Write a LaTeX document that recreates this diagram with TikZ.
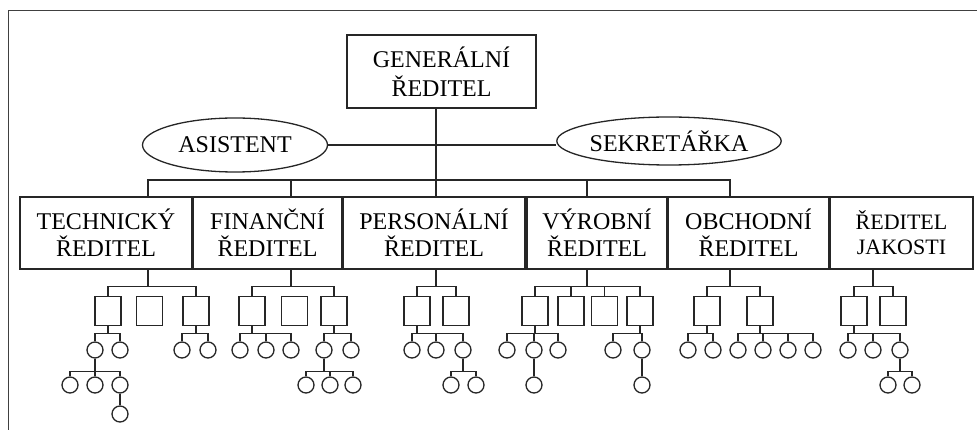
\documentclass[tikz,border=0pt]{standalone}
\usepackage{fontspec}
\setmainfont{Liberation Serif}
\usetikzlibrary{shapes.geometric}

\begin{document}
\begin{tikzpicture}[
    x=1pt, y=-1pt,
    font=\fontsize{24}{27}\selectfont,
    % org chart parts
    boss/.style={rectangle, draw=black!85, line width=1.4pt, minimum width=189pt, minimum height=73pt, align=center, inner sep=0pt},
    dir/.style={rectangle, draw=black!85, line width=1.4pt, minimum height=72pt, align=center, inner sep=0pt},
    aide/.style={ellipse, draw=black!85, line width=1.3pt, inner sep=0pt},
    dept/.style={rectangle, draw=black!85, line width=1.3pt, minimum width=26pt, minimum height=29pt, inner sep=0pt},
    staff/.style={circle, draw=black!85, line width=1.3pt, minimum size=16pt, inner sep=0pt},
    link/.style={draw=black!85, line width=1.3pt},
]
\useasboundingbox (0,0) rectangle (977,430);

% frame (cut off at right and bottom)
\draw[line width=1pt, black!75] (8,430) -- (8,10.5) -- (977,10.5);

% -------------------------
% Top: general director and staff
% -------------------------
\node[boss, font=\fontsize{24}{29}\selectfont] (gen) at (441.5,71.5) {GENERÁLNÍ\\ŘEDITEL};

\node[aide, minimum width=185pt, minimum height=54pt] (asi) at (235,145) {ASISTENT};
\node[aide, minimum width=201pt, minimum height=48pt] (sek) at (669,141) {SEKRETÁŘKA};

\draw[link] (asi.east) -- (asi.east -| sek.west);

% -------------------------
% Directors
% -------------------------
\node[dir, minimum width=172pt] (tech) at (106,233)   {TECHNICKÝ\\ŘEDITEL};
\node[dir, minimum width=149pt] (fin)  at (267.5,233) {FINANČNÍ\\ŘEDITEL};
\node[dir, minimum width=182pt] (pers) at (434,233)   {PERSONÁLNÍ\\ŘEDITEL};
\node[dir, minimum width=140pt] (vyr)  at (597,233)   {VÝROBNÍ\\ŘEDITEL};
\node[dir, minimum width=161pt] (obch) at (748.5,233) {OBCHODNÍ\\ŘEDITEL};
\node[dir, minimum width=143pt, font=\fontsize{22}{25}\selectfont] (jak) at (901.5,233) {ŘEDITEL\\JAKOSTI};

% axes of the branches (top bus level)
\coordinate (ax1) at (148,180);
\coordinate (ax2) at (291,180);
\coordinate (ax3) at (436,180);
\coordinate (ax4) at (587,180);
\coordinate (ax5) at (730,180);
\coordinate (ax6) at (873,180);

\foreach \d/\a in {tech/ax1, fin/ax2, pers/ax3, vyr/ax4, obch/ax5}{
  \draw[link] (gen.south -| ax3) |- (\a) -- (\d.north -| \a);
}

% -------------------------
% Departments
% -------------------------
\foreach \n/\x in {t1/108, t2/149.5, t3/196, f1/252, f2/294.5, f3/334,
                   p1/417, p2/456, v1/535, v2/571, v3/604.5, v4/640,
                   o1/707, o2/760, j1/854, j2/893}{
  \node[dept] (\n) at (\x,311) {};
}

\foreach \p/\a/\c in {tech/ax1/t1, tech/ax1/t3, fin/ax2/f1, fin/ax2/f3,
                      pers/ax3/p1, pers/ax3/p2,
                      vyr/ax4/v1, vyr/ax4/v2, vyr/ax4/v3, vyr/ax4/v4,
                      obch/ax5/o1, obch/ax5/o2, jak/ax6/j1, jak/ax6/j2}{
  \draw[link] (\p.south -| \a) |- ([yshift=9pt]\c.north) -- (\c.north);
}

% -------------------------
% Staff positions
% -------------------------
\foreach \n/\x in {ta/95, tb/120, tc/182, td/208,
                   fa/240, fb/266, fc/291, fd/324, fe/351,
                   pa/412, pb/436, pc/463,
                   va/507, vb/534, vc/558, vd/613, ve/642,
                   oa/688, ob/713, oc/738, od/763, oe/788, og/813,
                   ja/848, jb/873, jc/900}{
  \node[staff] (\n) at (\x,350) {};
}
\foreach \n/\x in {taa/70, tab/95, tac/120, fda/306, fdb/330, fdc/353,
                   pca/451, pcb/476, vba/534, vea/642, jca/888, jcb/912}{
  \node[staff] (\n) at (\x,385) {};
}
\node[staff] (taca) at (120,414) {};

\foreach \p/\c in {t1/ta, t1/tb, t3/tc, t3/td, f1/fa, f1/fb, f1/fc, f3/fd, f3/fe,
                   p1/pa, p1/pb, p1/pc, v1/va, v1/vb, v1/vc, v4/vd, v4/ve,
                   o1/oa, o1/ob, o2/oc, o2/od, o2/oe, o2/og, j1/ja, j1/jb, j1/jc}{
  \draw[link] (\p.south) |- ([yshift=8pt]\c.north) -- (\c.north);
}
\foreach \p/\c in {ta/taa, ta/tab, ta/tac, tac/taca, fd/fda, fd/fdb, fd/fdc,
                   pc/pca, pc/pcb, vb/vba, ve/vea, jc/jca, jc/jcb}{
  \draw[link] (\p.south) |- ([yshift=5pt]\c.north) -- (\c.north);
}

\end{tikzpicture}
\end{document}
